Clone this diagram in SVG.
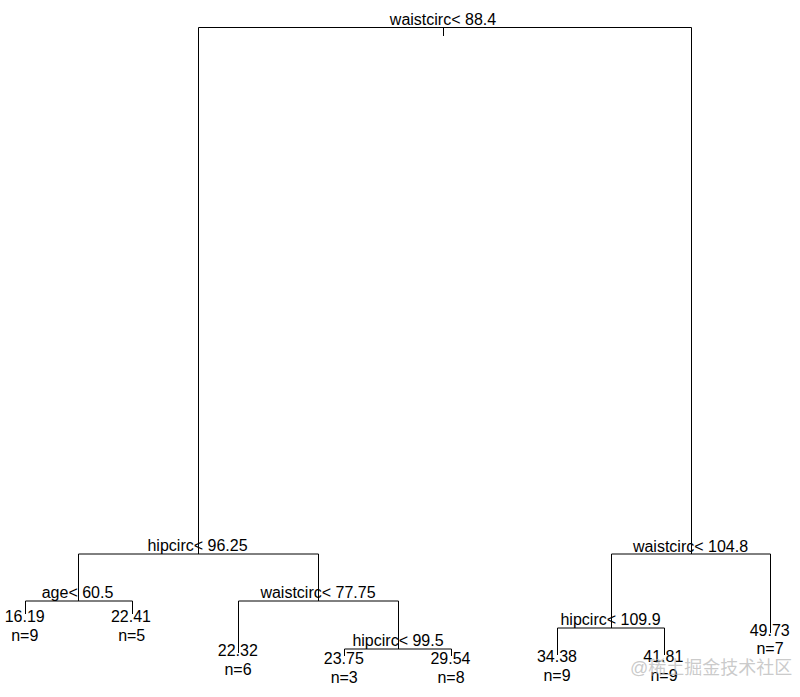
<svg xmlns="http://www.w3.org/2000/svg" width="800" height="697" viewBox="0 0 800 697">
<style>
.e{stroke:#000;stroke-width:1;fill:none}
text{font-family:"Liberation Sans",Arial,sans-serif;font-size:16px;fill:#000;text-anchor:middle}
.wm{font-family:"Liberation Sans","Noto Sans CJK SC",sans-serif;font-size:18px;fill:#b4b4b4;fill-opacity:0.7;text-anchor:start}
</style>
<rect width="800" height="697" fill="#fff"/>
<g id="connectors">
<path class="e" d="M198.5,554V27.5H691.5V554"/>
<path class="e" d="M443.5,27.5V36"/>
<path class="e" d="M78.5,601V554H318.5V601"/>
<path class="e" d="M25.5,614V601H132.5V614"/>
<path class="e" d="M238.5,653V601H398.5V649"/>
<path class="e" d="M344.5,656V649H451.5V656"/>
<path class="e" d="M611.5,628V554H770.5V633"/>
<path class="e" d="M557.5,655V628H664.5V655"/>
</g>
<g id="n1"><text x="443" y="24.5">waistcirc&lt; 88.4</text></g>
<g id="n2"><text x="197.5" y="551">hipcirc&lt; 96.25</text></g>
<g id="n3"><text x="690.5" y="551.5">waistcirc&lt; 104.8</text></g>
<g id="n4"><text x="77.5" y="598">age&lt; 60.5</text></g>
<g id="n5"><text x="318" y="598">waistcirc&lt; 77.75</text></g>
<g id="n11"><text x="398" y="646">hipcirc&lt; 99.5</text></g>
<g id="n6"><text x="610.5" y="625">hipcirc&lt; 109.9</text></g>
<g id="leaf8"><text x="24.7" y="622">16.19</text><text x="24.8" y="641">n=9</text></g>
<g id="leaf9"><text x="131" y="622">22.41</text><text x="131.7" y="641">n=5</text></g>
<g id="leaf10"><text x="237.8" y="656">22.32</text><text x="238" y="674.5">n=6</text></g>
<g id="leaf22"><text x="343.8" y="664">23.75</text><text x="344.2" y="683.3">n=3</text></g>
<g id="leaf23"><text x="450.5" y="664">29.54</text><text x="451" y="683.3">n=8</text></g>
<g id="leaf12"><text x="557" y="661.7">34.38</text><text x="557" y="680.7">n=9</text></g>
<g id="leaf13"><text x="663.3" y="661.7">41.81</text><text x="664" y="680.7">n=9</text></g>
<g id="leaf7"><text x="769.7" y="635.7">49.73</text><text x="770" y="654">n=7</text></g>
<text class="wm" x="630" y="674">@稀土掘金技术社区</text>
</svg>
